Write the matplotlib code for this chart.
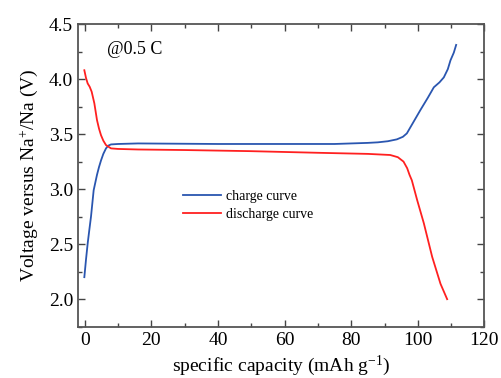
import matplotlib
matplotlib.use("Agg")
import matplotlib.pyplot as plt
from matplotlib.ticker import MultipleLocator

plt.rcParams["font.family"] = "Liberation Serif"
plt.rcParams["mathtext.fontset"] = "custom"
plt.rcParams["mathtext.rm"] = "Liberation Serif"
plt.rcParams["mathtext.it"] = "Liberation Serif:italic"

# charge curve
charge_x = [-0.1, 0.4, 0.9, 1.4, 1.9, 2.3, 2.7, 3.2, 3.7, 4.3, 4.9, 5.6, 6.4, 7.1,
            7.9, 10, 16, 40, 60, 75, 85, 88, 91, 93.7, 95.5, 96.7, 98.5, 100.8,
            103, 104.8, 106.5, 107.8, 109, 109.8, 110.8, 111.5]
charge_y = [2.20, 2.36, 2.506, 2.63, 2.75, 2.87, 2.99, 3.06, 3.13, 3.20, 3.26, 3.32,
            3.37, 3.395, 3.406, 3.41, 3.415, 3.41, 3.41, 3.41, 3.42, 3.425, 3.435,
            3.452, 3.475, 3.506, 3.60, 3.72, 3.83, 3.925, 3.97, 4.015, 4.09, 4.17,
            4.24, 4.31]

# discharge curve
discharge_x = [-0.1, 0.4, 0.9, 1.5, 2.1, 2.9, 3.7, 4.3, 4.9, 5.6, 6.4, 7.9, 10, 16,
               30, 49.6, 70, 85, 91.7, 94, 95.7, 96.8, 97.5, 98.2, 99.0, 99.8, 101.8,
               104.3, 106.8, 108.8]
discharge_y = [4.08, 4.01, 3.96, 3.93, 3.885, 3.78, 3.627, 3.55, 3.49, 3.44, 3.40,
               3.37, 3.365, 3.36, 3.355, 3.345, 3.33, 3.32, 3.31, 3.29, 3.25, 3.19,
               3.13, 3.08, 2.99, 2.90, 2.69, 2.385, 2.14, 2.00]

fig = plt.figure(figsize=(5.01, 3.78), dpi=100)
ax = fig.add_axes([0.1557, 0.1357, 0.8113, 0.8008])

ax.plot(charge_x, charge_y, color="#2a56b0", lw=1.3, label="charge curve")
ax.plot(discharge_x, discharge_y, color="#ff2020", lw=1.3, label="discharge curve")

ax.set_xlim(-2, 120)
ax.set_ylim(1.75, 4.5)
ax.xaxis.set_major_locator(MultipleLocator(20))
ax.xaxis.set_minor_locator(MultipleLocator(10))
ax.yaxis.set_major_locator(MultipleLocator(0.5))
ax.yaxis.set_minor_locator(MultipleLocator(0.25))
ax.yaxis.set_major_formatter(matplotlib.ticker.FormatStrFormatter("%.1f"))
ax.tick_params(which="both", direction="in", top=True, right=True, labelsize=14,
               color="#444444", width=1.0)
ax.tick_params(which="major", length=5)
ax.tick_params(which="minor", length=3)
for s in ax.spines.values():
    s.set_color("#555555")
    s.set_linewidth(1.3)

ax.set_xlabel("specific capacity (mAh g$^{\\mathregular{-1}}$)", fontsize=14, labelpad=4)
ax.set_ylabel("Voltage versus Na$^{\\mathregular{+}}$/Na (V)", fontsize=14, labelpad=6)
ax.text(0.072, 0.915, "@0.5 C", transform=ax.transAxes, fontsize=13, va="center")

ax.legend(loc="upper left", bbox_to_anchor=(0.24, 0.475), frameon=False, fontsize=10,
          handlelength=2.8, handletextpad=0.3, labelspacing=0.35, borderpad=0)

fig.savefig("out.png", dpi=100)
